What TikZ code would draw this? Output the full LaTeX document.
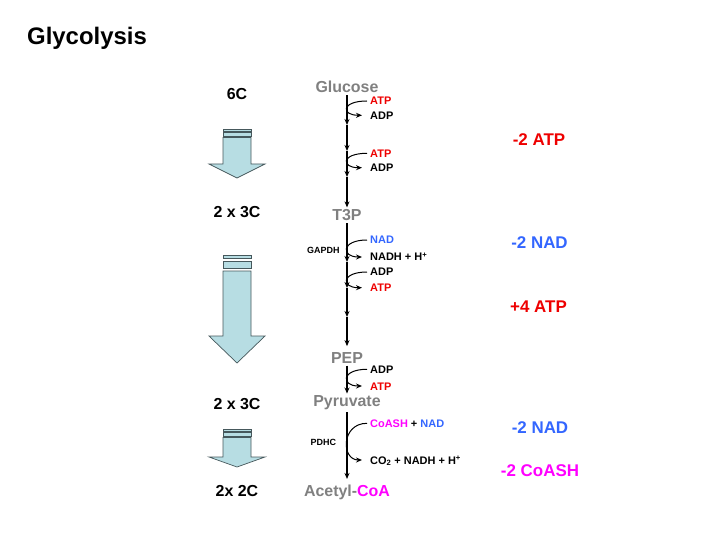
\documentclass[tikz,border=0pt]{standalone}
\usepackage{fontspec}
\setmainfont{Liberation Sans}
\usetikzlibrary{arrows.meta}
\tikzset{>={Stealth[length=6bp,width=5bp]}}
\definecolor{molgray}{RGB}{128,128,128}
\definecolor{atpred}{RGB}{238,0,0}
\definecolor{nadblue}{RGB}{51,102,255}
\definecolor{coamag}{RGB}{255,0,255}
\definecolor{boxfill}{RGB}{183,221,227}
\definecolor{boxline}{RGB}{70,88,92}

\begin{document}
\begin{tikzpicture}[x=1bp,y=-1bp,
  molecule/.style={font=\fontsize{16}{16}\bfseries, text=molgray, inner sep=2bp, anchor=base},
  small/.style={font=\fontsize{11}{11}\bfseries, inner sep=0pt, text height=8bp, text depth=0pt, anchor=base west},
  enzyme/.style={font=\fontsize{9}{9}\bfseries, inner sep=0pt, anchor=base},
  carbon/.style={font=\fontsize{16}{16}\bfseries, inner sep=0pt, anchor=base},
  total/.style={font=\fontsize{17}{17}\bfseries, inner sep=0pt, anchor=base},
  mainstep/.style={->, line width=1.1bp},
  sidestep/.style={->, line width=1bp, out=180, in=180, distance=29bp, shorten <=3bp, shorten >=8bp},
  blockarrow/.style={fill=boxfill, draw=boxline, line width=0.7bp}]
\useasboundingbox (0,0) rectangle (720,540);

% title
\node[font=\fontsize{24}{24}\bfseries, inner sep=0pt, anchor=base west] (title) at (27,45) {Glycolysis};

% carbon count
\node[carbon] (c6) at (237,99.7) {6C};
\node[carbon] (c3a) at (237,217.3) {2 x 3C};
\node[carbon] (c3b) at (237,409.3) {2 x 3C};
\node[carbon] (c2) at (237,496) {2x 2C};

% block arrows
\draw[blockarrow] (223,129) rectangle (251,131);
\draw[blockarrow] (223,132.5) rectangle (251,136);
\draw[blockarrow] (223,137.5) -- (223,164) -- (209,164) -- (237,178) -- (265,164) -- (251,164) -- (251,137.5) -- cycle;
\draw[blockarrow] (223,255) rectangle (251,258);
\draw[blockarrow] (223,261.5) rectangle (251,268);
\draw[blockarrow] (223,271) -- (223,336) -- (209,336) -- (237,363) -- (265,336) -- (251,336) -- (251,271) -- cycle;
\draw[blockarrow] (223,429) rectangle (251,431);
\draw[blockarrow] (223,432.5) rectangle (251,436);
\draw[blockarrow] (223,437.5) -- (223,457) -- (209,457) -- (237,467) -- (265,457) -- (251,457) -- (251,437.5) -- cycle;

% molecules
\node[molecule] (glc) at (347,92.7) {Glucose};
\node[molecule] (t3p) at (347,220.7) {T3P};
\node[molecule] (pep) at (347,363.3) {PEP};
\node[molecule] (pyr) at (347,406.7) {Pyruvate};
\node[molecule] (acoa) at (347,496.7) {Acetyl-\textcolor{coamag}{CoA}};

\coordinate (g1) at (347,125);
\coordinate (g2) at (347,151);
\coordinate (g3) at (347,177);
\coordinate (t1) at (347,262);
\coordinate (t2) at (347,288);
\coordinate (t3) at (347,317);

\draw[mainstep] (glc) -- (g1);
\draw[mainstep] (g1) -- (g2);
\draw[mainstep] (g2) -- (g3);
\draw[mainstep] (g3) -- (t3p);
\draw[mainstep] (t3p) -- (t1);
\draw[mainstep] (t1) -- (t2);
\draw[mainstep] (t2) -- (t3);
\draw[mainstep, shorten >=4bp] (t3) -- (pep);
\draw[mainstep] (pep) -- (pyr);
\draw[mainstep, shorten >=4bp] (pyr) -- (acoa);

% side reactions
\node[small, text=atpred] (atp1) at (370,105) {ATP};
\node[small] (adp1) at (370,119.3) {ADP};
\node[small, text=atpred] (atp2) at (370,157.3) {ATP};
\node[small] (adp2) at (370,171.7) {ADP};
\node[small, text=nadblue] (nad1) at (370,244) {NAD};
\node[small] (nadh1) at (370,261) {NADH + H\textsuperscript{+}};
\node[small] (adp3) at (370,276) {ADP};
\node[small, text=atpred] (atp3) at (370,291.7) {ATP};
\node[small] (adp4) at (370,373.3) {ADP};
\node[small, text=atpred] (atp4) at (370,390) {ATP};
\node[small] (coash) at (370,427.3) {\textcolor{coamag}{CoASH} + \textcolor{nadblue}{NAD}};
\node[small] (co2) at (370,464) {CO\textsubscript{2} + NADH + H\textsuperscript{+}};

\draw[sidestep] (atp1.west) to (adp1.west);
\draw[sidestep] (atp2.west) to (adp2.west);
\draw[sidestep] (nad1.west) to (nadh1.west);
\draw[sidestep] (adp3.west) to (atp3.west);
\draw[sidestep] (adp4.west) to (atp4.west);
\draw[sidestep] (coash.west) to (co2.west);

\node[enzyme] (gapdh) at (323.3,253.3) {GAPDH};
\node[enzyme] (pdhc) at (323.3,445) {PDHC};

% balance
\node[total, text=atpred] (sumatp1) at (539,146) {-2 ATP};
\node[total, text=nadblue] (sumnad1) at (539.5,249) {-2 NAD};
\node[total, text=atpred] (sumatp2) at (538.5,312.7) {+4 ATP};
\node[total, text=nadblue] (sumnad2) at (540,433.3) {-2 NAD};
\node[total, text=coamag] (sumcoa) at (540,476.7) {-2 CoASH};
\end{tikzpicture}
\end{document}
